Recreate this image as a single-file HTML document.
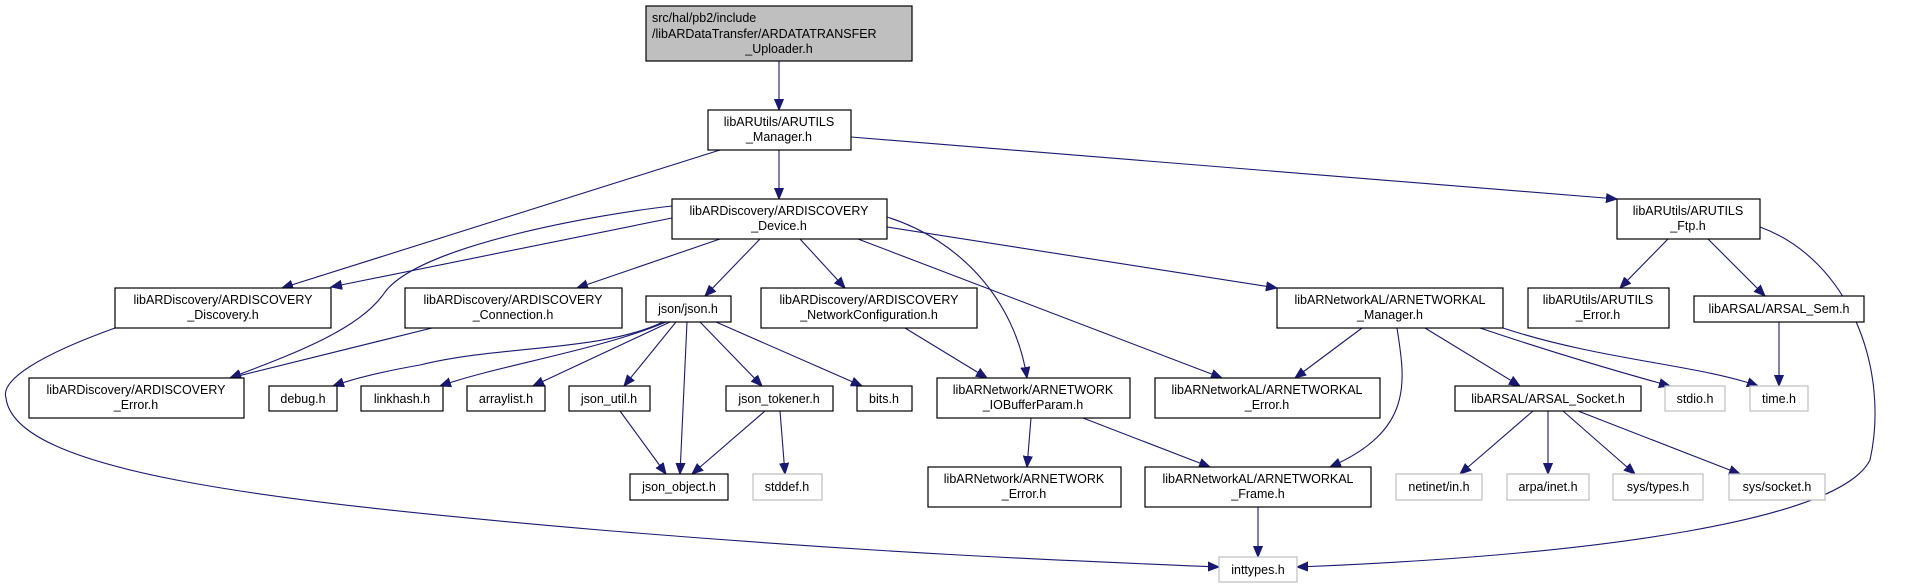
<!DOCTYPE html>
<html><head><meta charset="utf-8"><style>
html,body{margin:0;padding:0;background:#fff;}
svg{display:block;}
text{font-family:"Liberation Sans",sans-serif;font-size:12.5px;fill:#000;text-anchor:middle;}
.n{fill:#fff;stroke:#000;stroke-width:1.2;}
.g{fill:#fff;stroke:#bfbfbf;stroke-width:1.2;}
.e{fill:none;stroke:#191970;stroke-width:1.1;marker-end:url(#a);}
</style></head><body>
<svg width="1923" height="588" viewBox="0 0 1923 588" xmlns="http://www.w3.org/2000/svg">
<defs><marker id="a" markerUnits="userSpaceOnUse" markerWidth="12" markerHeight="10" refX="11" refY="5" orient="auto"><path d="M0,0.5 L11,5 L0,9.5 z" fill="#191970" stroke="#191970"/></marker></defs>
<!-- edges -->
<path class="e" d="M779,61 L779,110"/>
<path class="e" d="M720,150 L282,288"/>
<path class="e" d="M779,150 L779,199"/>
<path class="e" d="M851,137 L1617,199"/>
<path class="e" d="M672,218 L331,287"/>
<path class="e" d="M672,206 C600,214 420,245 385,292 C360,330 290,355 230,378"/>
<path class="e" d="M720,239 L577,288"/>
<path class="e" d="M760,239 L705,296"/>
<path class="e" d="M800,239 L845,288"/>
<path class="e" d="M887,217 C960,240 1015,300 1027,378"/>
<path class="e" d="M858,239 L1222,378"/>
<path class="e" d="M887,227 L1277,288"/>
<path class="e" d="M432,328 L230,378"/>
<path class="e" d="M115,328 C40,355 0,380 6,398 C15,470 250,500 600,530 C900,555 1100,562 1219,567"/>
<path class="e" d="M663,322 C600,352 500,345 420,365 C380,372 350,380 333,386"/>
<path class="e" d="M666,322 C600,350 500,365 440,386"/>
<path class="e" d="M670,322 L533,386"/>
<path class="e" d="M676,322 L624,386"/>
<path class="e" d="M687,322 L680,474"/>
<path class="e" d="M700,322 L762,386"/>
<path class="e" d="M716,322 L862,386"/>
<path class="e" d="M620,411 L666,474"/>
<path class="e" d="M765,411 L692,474"/>
<path class="e" d="M780,411 L785,474"/>
<path class="e" d="M905,328 L987,378"/>
<path class="e" d="M1031,418 L1027,467"/>
<path class="e" d="M1083,418 L1210,467"/>
<path class="e" d="M1362,328 L1295,378"/>
<path class="e" d="M1397,328 C1405,380 1415,430 1330,467"/>
<path class="e" d="M1425,328 L1520,386"/>
<path class="e" d="M1480,328 C1560,355 1630,375 1670,386"/>
<path class="e" d="M1503,328 C1600,360 1700,365 1758,386"/>
<path class="e" d="M1258,507 L1258,557"/>
<path class="e" d="M1668,239 L1620,288"/>
<path class="e" d="M1708,239 L1765,296"/>
<path class="e" d="M1760,227 C1850,260 1890,370 1870,460 C1840,520 1600,555 1297,567"/>
<path class="e" d="M1779,322 L1779,386"/>
<path class="e" d="M1533,411 L1460,474"/>
<path class="e" d="M1548,411 L1548,474"/>
<path class="e" d="M1563,411 L1635,474"/>
<path class="e" d="M1578,411 L1740,474"/>
<!-- nodes -->
<rect x="646" y="6" width="266" height="55" fill="#bfbfbf" stroke="#000" stroke-width="1.2"/>
<text x="652" y="22" style="text-anchor:start">src/hal/pb2/include</text>
<text x="652" y="38" style="text-anchor:start">/libARDataTransfer/ARDATATRANSFER</text>
<text x="779" y="53">_Uploader.h</text>

<rect class="n" x="708" y="110" width="143" height="40"/>
<text x="779" y="126">libARUtils/ARUTILS</text><text x="779" y="141">_Manager.h</text>

<rect class="n" x="672" y="199" width="215" height="40"/>
<text x="779" y="215">libARDiscovery/ARDISCOVERY</text><text x="779" y="230">_Device.h</text>

<rect class="n" x="115" y="288" width="216" height="40"/>
<text x="223" y="304">libARDiscovery/ARDISCOVERY</text><text x="223" y="319">_Discovery.h</text>

<rect class="n" x="405" y="288" width="217" height="40"/>
<text x="513" y="304">libARDiscovery/ARDISCOVERY</text><text x="513" y="319">_Connection.h</text>

<rect class="n" x="646" y="296" width="85" height="26"/>
<text x="688" y="313">json/json.h</text>

<rect class="n" x="761" y="288" width="216" height="40"/>
<text x="869" y="304">libARDiscovery/ARDISCOVERY</text><text x="869" y="319">_NetworkConfiguration.h</text>

<rect class="n" x="29" y="378" width="215" height="40"/>
<text x="136" y="394">libARDiscovery/ARDISCOVERY</text><text x="136" y="409">_Error.h</text>

<rect class="n" x="269" y="386" width="68" height="25"/><text x="303" y="403">debug.h</text>
<rect class="n" x="361" y="386" width="82" height="25"/><text x="402" y="403">linkhash.h</text>
<rect class="n" x="467" y="386" width="78" height="25"/><text x="506" y="403">arraylist.h</text>
<rect class="n" x="569" y="386" width="81" height="25"/><text x="609" y="403">json_util.h</text>
<rect class="n" x="726" y="386" width="107" height="25"/><text x="779" y="403">json_tokener.h</text>
<rect class="n" x="857" y="386" width="55" height="25"/><text x="884" y="403">bits.h</text>
<rect class="n" x="630" y="474" width="98" height="26"/><text x="679" y="491">json_object.h</text>
<rect class="g" x="753" y="474" width="69" height="26"/><text x="787" y="491">stddef.h</text>

<rect class="n" x="937" y="378" width="193" height="40"/>
<text x="1033" y="394">libARNetwork/ARNETWORK</text><text x="1033" y="409">_IOBufferParam.h</text>

<rect class="n" x="928" y="467" width="193" height="40"/>
<text x="1024" y="483">libARNetwork/ARNETWORK</text><text x="1024" y="498">_Error.h</text>

<rect class="n" x="1155" y="378" width="225" height="40"/>
<text x="1267" y="394">libARNetworkAL/ARNETWORKAL</text><text x="1267" y="409">_Error.h</text>

<rect class="n" x="1277" y="288" width="226" height="40"/>
<text x="1390" y="304">libARNetworkAL/ARNETWORKAL</text><text x="1390" y="319">_Manager.h</text>

<rect class="n" x="1617" y="199" width="143" height="40"/>
<text x="1688" y="215">libARUtils/ARUTILS</text><text x="1688" y="230">_Ftp.h</text>

<rect class="n" x="1528" y="288" width="141" height="40"/>
<text x="1598" y="304">libARUtils/ARUTILS</text><text x="1598" y="319">_Error.h</text>

<rect class="n" x="1694" y="296" width="170" height="26"/><text x="1779" y="313">libARSAL/ARSAL_Sem.h</text>

<rect class="n" x="1455" y="386" width="186" height="25"/><text x="1548" y="403">libARSAL/ARSAL_Socket.h</text>
<rect class="g" x="1665" y="386" width="60" height="25"/><text x="1695" y="403">stdio.h</text>
<rect class="g" x="1750" y="386" width="58" height="25"/><text x="1779" y="403">time.h</text>

<rect class="n" x="1145" y="467" width="226" height="40"/>
<text x="1258" y="483">libARNetworkAL/ARNETWORKAL</text><text x="1258" y="498">_Frame.h</text>

<rect class="g" x="1396" y="474" width="86" height="26"/><text x="1439" y="491">netinet/in.h</text>
<rect class="g" x="1507" y="474" width="82" height="26"/><text x="1548" y="491">arpa/inet.h</text>
<rect class="g" x="1613" y="474" width="90" height="26"/><text x="1658" y="491">sys/types.h</text>
<rect class="g" x="1729" y="474" width="96" height="26"/><text x="1777" y="491">sys/socket.h</text>
<rect class="g" x="1219" y="557" width="78" height="25"/><text x="1258" y="574">inttypes.h</text>
</svg>
</body></html>
